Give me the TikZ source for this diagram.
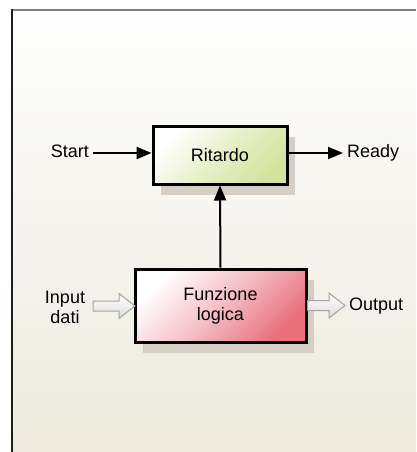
\documentclass[tikz,border=0pt]{standalone}
\usepackage{fontspec}
\setmainfont{Liberation Sans}
\usetikzlibrary{arrows.meta,calc,shadows}
\definecolor{bgtop}{HTML}{FEFEFE}
\definecolor{bgbot}{HTML}{EDEADD}
\definecolor{shadowc}{HTML}{D5CEC3}
\definecolor{greenc}{HTML}{D3E39C}
\definecolor{redc}{HTML}{E8707B}
\definecolor{hollowedge}{HTML}{A3A3A3}
\definecolor{hollowfill}{HTML}{DCDCDC}
\definecolor{topline}{HTML}{808080}
\definecolor{leftline}{HTML}{1E1E1E}
\newcommand\hollowarr[2]{%
  \draw[hollow] let \p1=(#1), \p2=(#2) in
    (\x1,\y1+5pt) -- (\x2-16pt,\y1+5pt) -- (\x2-16pt,\y1+12.5pt) -- (\x2,\y1)
    -- (\x2-16pt,\y1-12.5pt) -- (\x2-16pt,\y1-5pt) -- (\x1,\y1-5pt) -- cycle;}
\begin{document}
\begin{tikzpicture}[x=1pt,y=-1pt,
  font=\fontsize{18}{20}\selectfont,
  blk/.style={draw=black,line width=3pt,rectangle,inner sep=0pt,
    drop shadow={shadow xshift=8pt,shadow yshift=-11pt,fill=shadowc,opacity=1}},
  lbl/.style={inner sep=4pt,text height=13pt,text depth=4pt},
  conn/.style={line width=2pt,-{Triangle[length=15pt,width=12pt]}},
  hollow/.style={draw=hollowedge,line width=1pt,top color=white,bottom color=hollowfill}]
\useasboundingbox (0,0) rectangle (416,452);
\fill[white] (0,0) rectangle (416,452);
\shade[top color=bgtop,bottom color=bgbot] (12,10) rectangle (416,452);
\draw[topline,line width=2.5pt] (12,10) -- (416,10);
\draw[leftline,line width=2pt] (12,9) -- (12,452);

\node[blk,minimum width=134pt,minimum height=58pt,
  top color=white,bottom color=greenc,middle color=greenc!55,shading angle=45] (rit) at (220,155) {Ritardo};
\node[blk,minimum width=171pt,minimum height=73pt,align=center,
  top color=white,bottom color=redc,middle color=redc!45,shading angle=45] (fun) at (220.5,305.5) {Funzione\\logica};

\node[lbl,anchor=east] (start) at (93,153) {Start};
\node[lbl,anchor=west] (ready) at (343,153) {Ready};
\node[align=center,inner sep=2pt] (inp) at (65,307) {Input\\dati};
\node[lbl,anchor=west] (out) at (345,306) {Output};
\coordinate (intail) at (93,306);
\coordinate (intip) at (135,306);

\draw[conn] (start.east) -- (start.east -| rit.west);
\draw[conn] (ready.west -| rit.east) -- (ready.west);
\draw[conn] (fun.north) -- (rit.south);
\hollowarr{intail}{intip}
\hollowarr{fun.east}{out.west}
\end{tikzpicture}
\end{document}
